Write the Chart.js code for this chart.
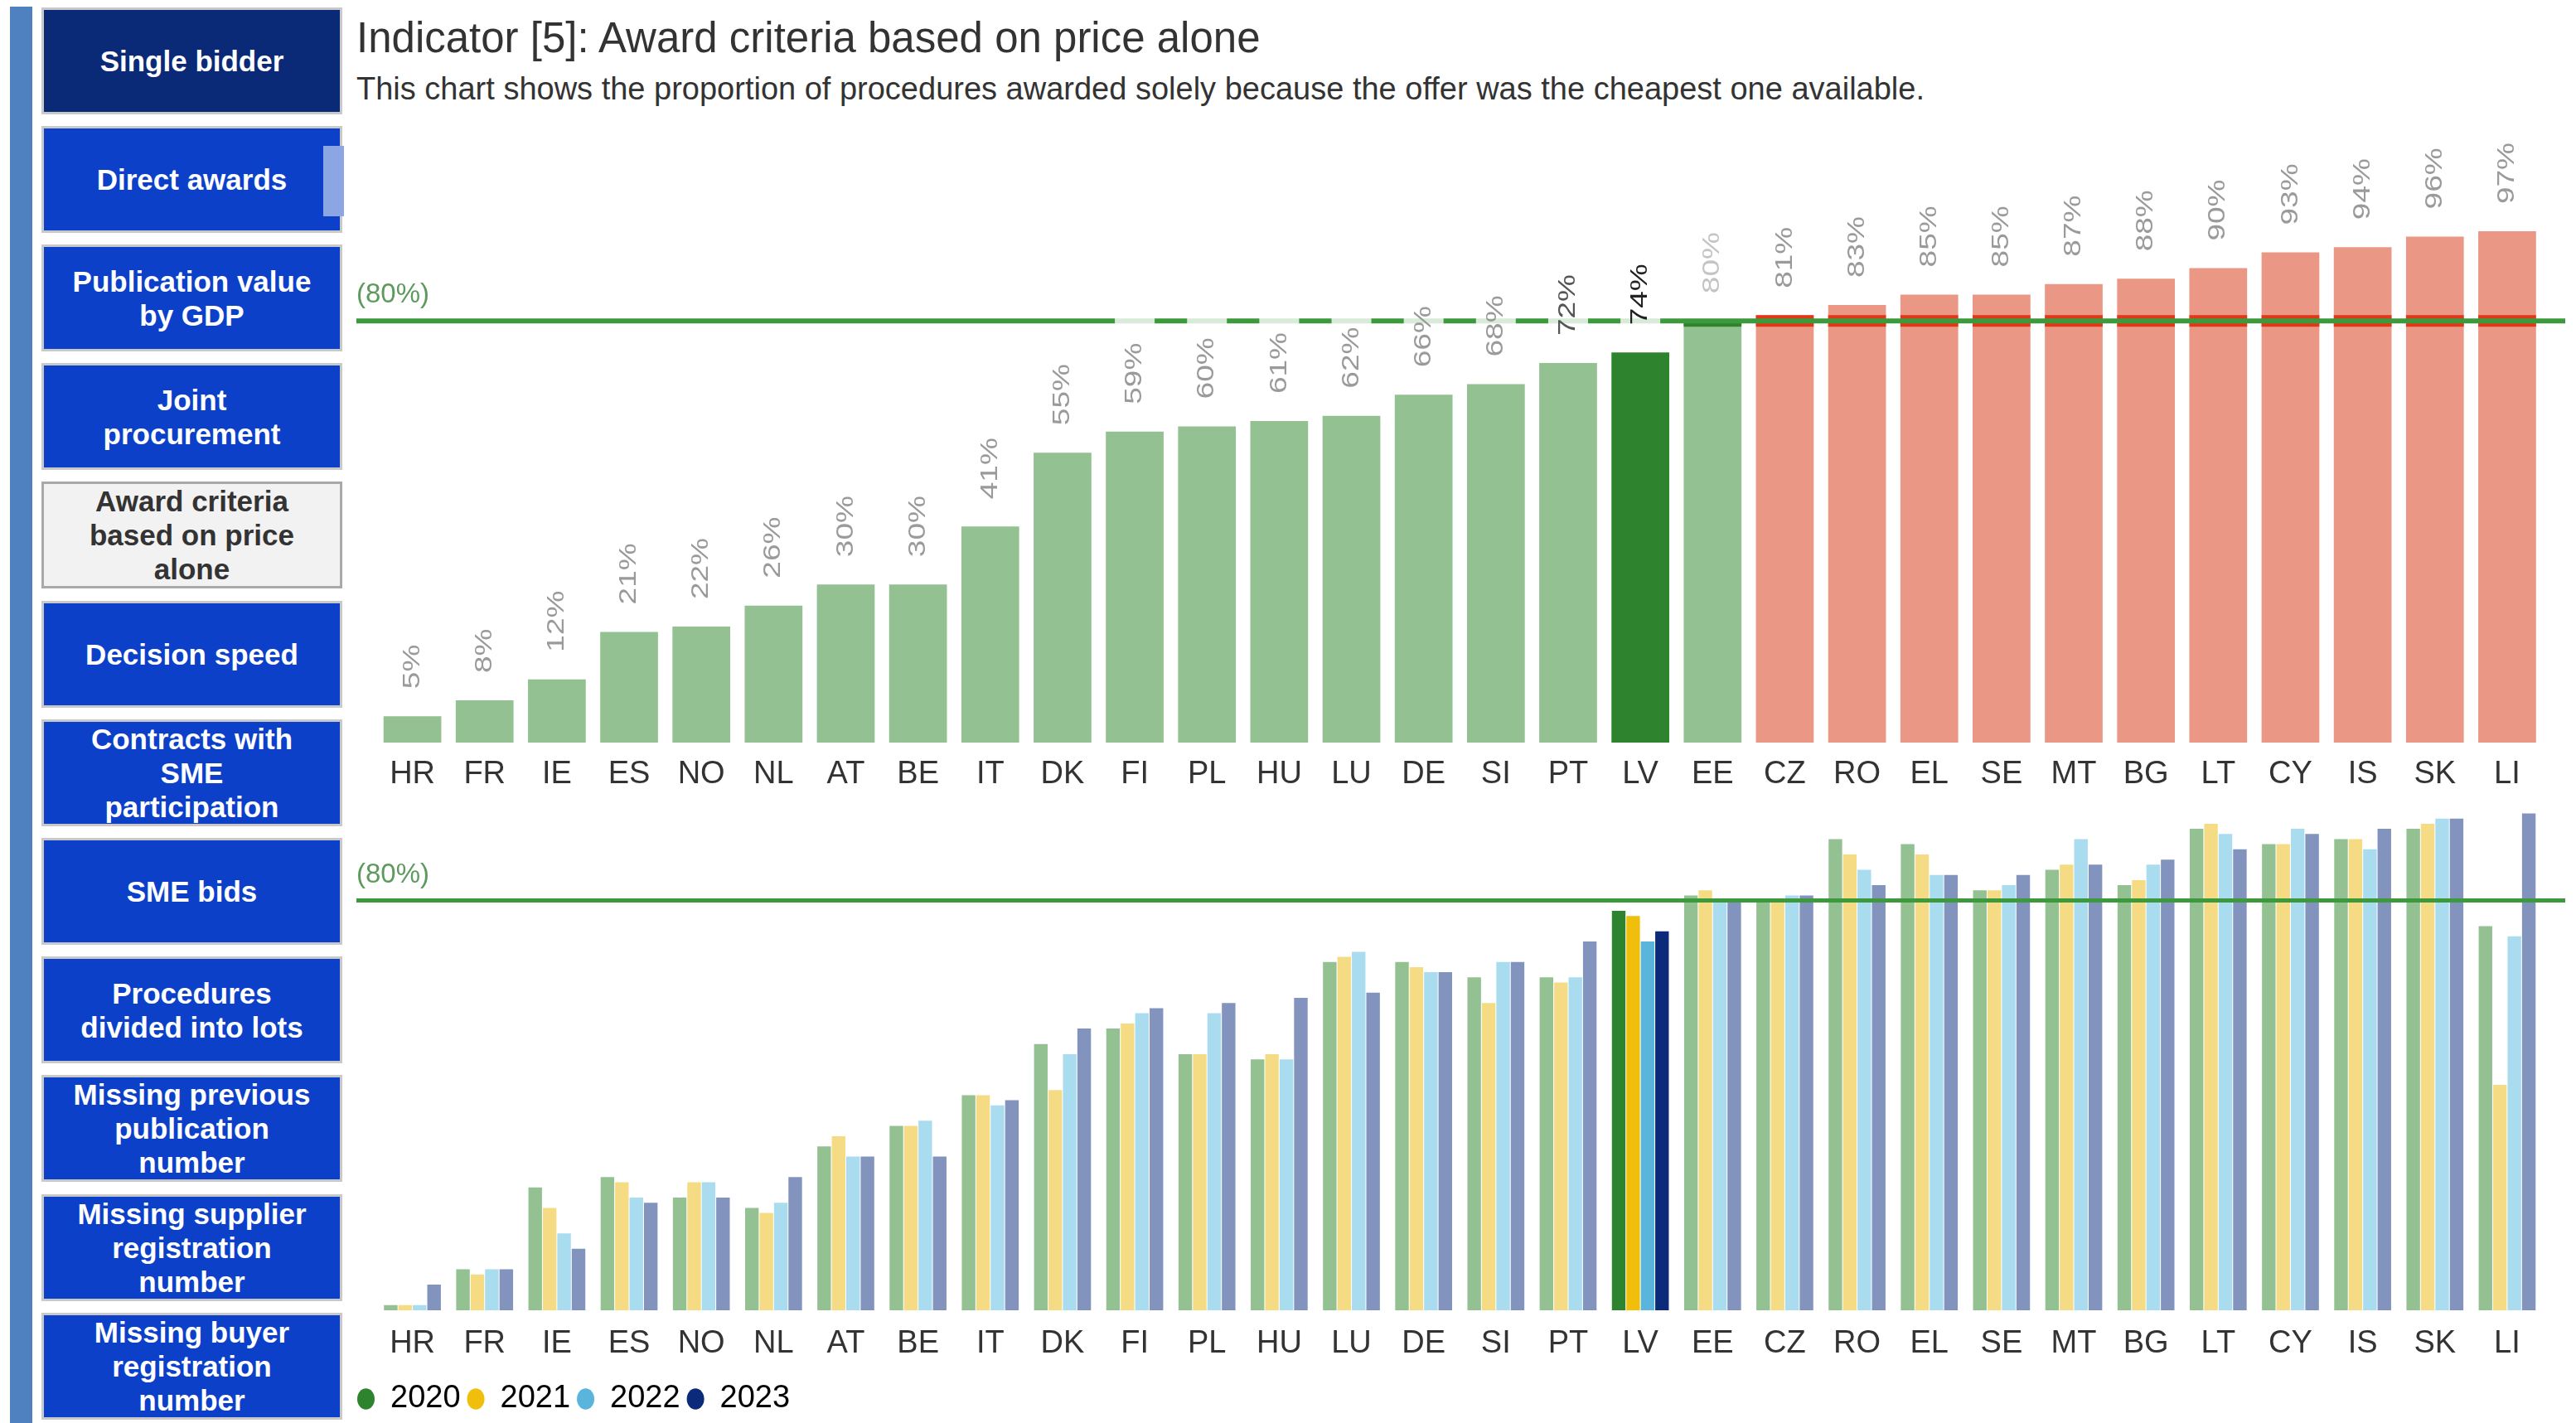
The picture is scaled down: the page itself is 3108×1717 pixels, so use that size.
<!DOCTYPE html>
<html>
<head>
<meta charset="utf-8">
<script src="https://cdn.jsdelivr.net/npm/chart.js@4.4.1/dist/chart.umd.min.js"></script>
<style>
  html, body { margin: 0; padding: 0; background: #fff; }
  body { width: 3108px; height: 1717px; position: relative; overflow: hidden; font-family: 'Liberation Sans', Arial, sans-serif; }
  #strip { position: absolute; left: 12px; top: 8px; width: 27px; height: 1709px; background: #4f80c0; }
  .btn { position: absolute; left: 50px; width: 363px; height: 129px; box-sizing: border-box; border: 3px solid #c9c9c9;
         background: #0c40c9; color: #fff; font-weight: bold; font-size: 35px; line-height: 41px;
         display: flex; align-items: center; justify-content: center; text-align: center; }
  .btn.dark { background: #0a2a78; }
  .btn.active { background: #f2f2f2; color: #333; border-color: #a9a9a9; }
  #marker { position: absolute; left: 390px; top: 176px; width: 25px; height: 85px; background: #8ca6e4; }
  #title { position: absolute; left: 430px; top: 17px; font-size: 51px; line-height: 58px; color: #333; white-space: nowrap; }
  #subtitle { position: absolute; left: 430px; top: 85px; font-size: 38px; line-height: 44px; color: #333; white-space: nowrap; }
  .box { position: absolute; left: 423px; width: 2685px; }
  #topBox { top: 130px; height: 840px; }
  #bottomBox { top: 940px; height: 777px; }
</style>
</head>
<body>
<div id="strip"></div>
<div id="menu"></div>
<div id="marker"></div>
<div id="title">Indicator [5]: Award criteria based on price alone</div>
<div id="subtitle">This chart shows the proportion of procedures awarded solely because the offer was the cheapest one available.</div>
<div class="box" id="topBox"><canvas id="topChart"></canvas></div>
<div class="box" id="bottomBox"><canvas id="bottomChart"></canvas></div>

<script>
// menu on the left
const menuItems = ['Single bidder', 'Direct awards', 'Publication value<br>by GDP', 'Joint<br>procurement',
  'Award criteria<br>based on price<br>alone', 'Decision speed', 'Contracts with<br>SME<br>participation', 'SME bids',
  'Procedures<br>divided into lots', 'Missing previous<br>publication<br>number', 'Missing supplier<br>registration<br>number',
  'Missing buyer<br>registration<br>number'];
const activeItem = 4;

// data
const countries = ['HR','FR','IE','ES','NO','NL','AT','BE','IT','DK','FI','PL','HU','LU','DE',
  'SI','PT','LV','EE','CZ','RO','EL','SE','MT','BG','LT','CY','IS','SK','LI'];
const share2020 = [1, 8, 24, 26, 22, 20, 32, 36, 42, 52, 55, 50, 49, 68, 68, 65, 65, 78, 81, 80, 92, 91, 82, 86, 83, 94, 91, 92, 94, 75];
const share2021 = [1, 7, 20, 25, 25, 19, 34, 36, 42, 43, 56, 50, 50, 69, 67, 60, 64, 77, 82, 80, 89, 89, 82, 87, 84, 95, 91, 92, 95, 44];
const share2022 = [1, 8, 15, 22, 25, 21, 30, 37, 40, 50, 58, 58, 49, 70, 66, 68, 65, 72, 80, 81, 86, 85, 83, 92, 87, 93, 94, 90, 96, 73];
const share2023 = [5, 8, 12, 21, 22, 26, 30, 30, 41, 55, 59, 60, 61, 62, 66, 68, 72, 74, 80, 81, 83, 85, 85, 87, 88, 90, 93, 94, 96, 97];
const years = ['2020', '2021', '2022', '2023'];
const threshold = 80;
const selected = 'LV';

// colours
const softColors = ['#94c192', '#f5dc84', '#a9dcee', '#8293be'];
const strongColors = ['#2e842e', '#f0bf0c', '#5ab5dd', '#0b2a7a'];
const overColor = '#ea9885';
const bandColor = '#e03818';
const lineColor = '#3c9a3c';

const menu = document.getElementById('menu');
menuItems.forEach((txt, i) => {
  let d = document.createElement('div');
  d.className = 'btn' + (i === 0 ? ' dark' : '') + (i === activeItem ? ' active' : '');
  d.style.top = (8.6 + i * 143.2) + 'px';
  d.innerHTML = txt;
  menu.appendChild(d);
});

Chart.defaults.font.family = "'Liberation Sans', Arial, sans-serif";
Chart.defaults.color = '#333';

const thresholdLine = {
  id: 'thresholdLine',
  afterDatasetsDraw(chart, args, opts) {
    const {ctx} = chart;
    const yy = chart.scales.y.getPixelForValue(threshold);
    ctx.save();
    if (opts.bands) {
      const meta = chart.getDatasetMeta(0);
      const values = chart.data.datasets[0].data;
      meta.data.forEach((el, i) => {
        const v = values[i];
        if (v > threshold) {
          ctx.fillStyle = bandColor;
          ctx.fillRect(el.x - el.width / 2, yy - 7, el.width, 14);
        } else if (v === threshold) {
          ctx.fillStyle = strongColors[0];
          ctx.fillRect(el.x - el.width / 2, el.y, el.width, 7);
        }
      });
    }
    ctx.strokeStyle = lineColor;
    ctx.lineWidth = opts.width;
    ctx.beginPath();
    ctx.moveTo(opts.x0, yy);
    ctx.lineTo(opts.x1, yy);
    ctx.stroke();
    ctx.fillStyle = '#5e9a5e';
    ctx.font = "33px 'Liberation Sans', Arial, sans-serif";
    ctx.textBaseline = 'middle';
    ctx.textAlign = 'left';
    ctx.fillText('(' + threshold + '%)', opts.x0, yy - 31);
    ctx.restore();
  }
};

const valueLabels = {
  id: 'valueLabels',
  afterDatasetsDraw(chart) {
    const {ctx} = chart;
    const meta = chart.getDatasetMeta(0);
    const values = chart.data.datasets[0].data;
    ctx.save();
    ctx.font = "37px 'Liberation Sans', Arial, sans-serif";
    meta.data.forEach((el, i) => {
      const text = values[i] + '%';
      const len = ctx.measureText(text).width;
      const start = el.y - 33;
      const top = start - len;
      ctx.fillStyle = 'rgba(255,255,255,0.8)';
      ctx.fillRect(el.x - 24, top - 35, 48, start + 25 - (top - 35));
      let c = '#9a9a9a';
      if (countries[i] === selected) c = '#222';
      else if (countries[i] === 'PT') c = '#555';
      else if (values[i] === threshold) c = '#c4c4c4';
      ctx.fillStyle = c;
      ctx.save();
      ctx.translate(el.x, start);
      ctx.scale(0.8, 1);
      ctx.rotate(-Math.PI / 2);
      ctx.textAlign = 'left';
      ctx.textBaseline = 'middle';
      ctx.fillText(text, 0, 0);
      ctx.restore();
    });
    ctx.restore();
  }
};

function xAxis(height, pad) {
  return {
    grid: {display: false},
    border: {display: false},
    ticks: {font: {size: 38}, color: '#333', padding: pad, maxRotation: 0, autoSkip: false},
    afterFit: s => { s.height = height; }
  };
}
function yAxis() {
  return {
    min: 0, max: 100,
    grid: {display: false},
    border: {display: false},
    ticks: {display: false},
    afterFit: s => { s.width = 31; }
  };
}

const topColors = countries.map((c, i) =>
  c === selected ? strongColors[0] : (share2023[i] > threshold ? overColor : softColors[0]));

new Chart(document.getElementById('topChart'), {
  type: 'bar',
  data: {
    labels: countries,
    datasets: [{data: share2023, backgroundColor: topColors, borderWidth: 0,
      categoryPercentage: 1, barPercentage: 0.8}]
  },
  options: {
    responsive: true, maintainAspectRatio: false, animation: false,
    layout: {padding: {top: 130, right: 39.5, bottom: 18, left: 0}},
    scales: {x: xAxis(56, 8), y: yAxis()},
    plugins: {
      legend: {display: false}, tooltip: {enabled: false},
      thresholdLine: {bands: true, width: 6, x0: 7, x1: 2672}
    }
  },
  plugins: [thresholdLine, valueLabels]
});

const yearData = [share2020, share2021, share2022, share2023];
new Chart(document.getElementById('bottomChart'), {
  type: 'bar',
  data: {
    labels: countries,
    datasets: years.map((y, k) => ({
      label: y,
      data: yearData[k],
      backgroundColor: countries.map(c => c === selected ? strongColors[k] : softColors[k]),
      borderWidth: 0,
      categoryPercentage: 0.8,
      barPercentage: 0.94
    }))
  },
  options: {
    responsive: true, maintainAspectRatio: false, animation: false,
    layout: {padding: {top: 23, right: 39.5, bottom: 0, left: 0}},
    scales: {x: xAxis(80, 10), y: yAxis()},
    plugins: {
      tooltip: {enabled: false},
      legend: {
        position: 'bottom', align: 'start',
        labels: {
          usePointStyle: true, pointStyle: 'circle', pointStyleWidth: 21, boxHeight: 18,
          font: {size: 38}, color: '#333', padding: 8,
          generateLabels: () => years.map((y, k) => ({
            text: y, fillStyle: strongColors[k], strokeStyle: strongColors[k], lineWidth: 0,
            pointStyle: 'circle', datasetIndex: k, hidden: false
          }))
        }
      },
      thresholdLine: {bands: false, width: 5, x0: 7, x1: 2672}
    }
  },
  plugins: [thresholdLine]
});
</script>
</body>
</html>
